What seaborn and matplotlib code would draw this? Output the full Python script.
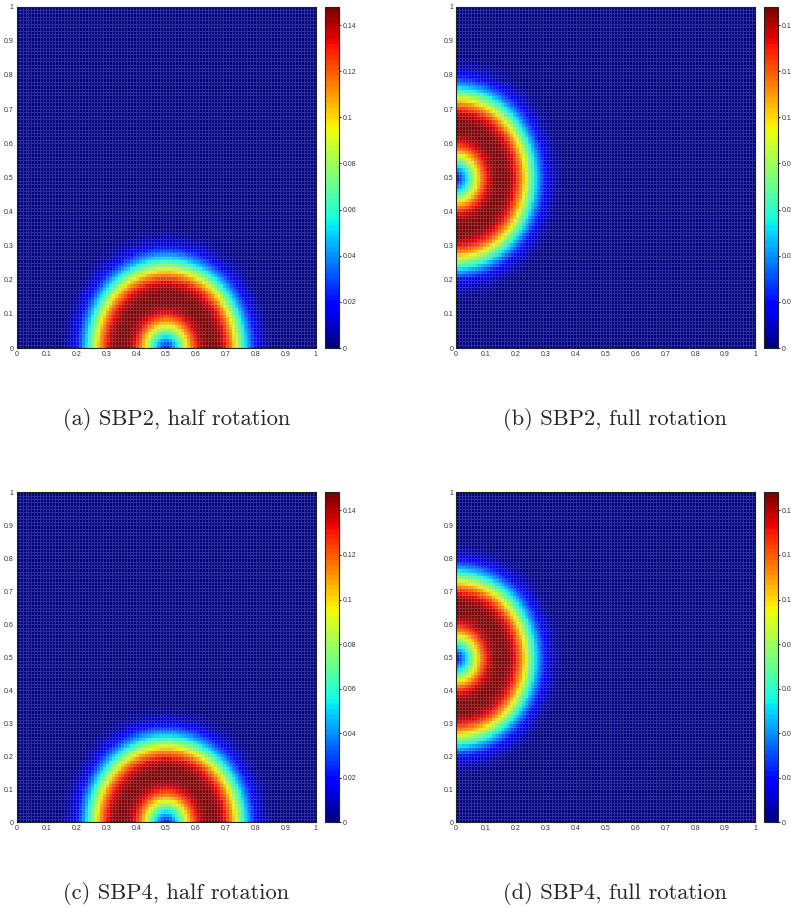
import numpy as np
import matplotlib
matplotlib.use("Agg")
import matplotlib.pyplot as plt
import seaborn as sns

# ring-shaped solution after rotation
grid_n = 100
ring_radius = 0.15       # radius of the dark red crest
ring_width = 0.113       # half width of the ring
ring_shape = 2.5         # flatness of the crest (2 = gaussian)
ring_peak = 0.147        # maximum value
color_max = 0.148
centers = {"half": (0.5, 0.0), "full": (0.0, 0.5)}

panels = ["a", "b", "c", "d"]
captions = ["(a) SBP2, half rotation", "(b) SBP2, full rotation",
            "(c) SBP4, half rotation", "(d) SBP4, full rotation"]
rotations = ["half", "full", "half", "full"]
axis_ticks = [0, 0.1, 0.2, 0.3, 0.4, 0.5, 0.6, 0.7, 0.8, 0.9, 1]
axis_labels = ["0", "0.1", "0.2", "0.3", "0.4", "0.5", "0.6", "0.7", "0.8", "0.9", "1"]
cbar_ticks = [0, 0.02, 0.04, 0.06, 0.08, 0.1, 0.12, 0.14]
cbar_labels = ["0", "0.02", "0.04", "0.06", "0.08", "0.1", "0.12", "0.14"]


def ring_field(cx, cy):
    xc = (np.arange(grid_n) + 0.5) / grid_n
    X, Y = np.meshgrid(xc, xc)
    r = np.hypot(X - cx, Y - cy)
    return ring_peak * np.exp(-np.abs((r - ring_radius) / ring_width) ** ring_shape)


sns.set_style("white")
plt.rcParams["font.family"] = ["Liberation Sans", "DejaVu Sans"]

fig = plt.figure(figsize=(7.91, 9.08), dpi=100)
jet = plt.get_cmap("jet", 64)

# axes boxes in figure fractions: (left, bottom, width, height)
ax_left = [0.0209, 0.5765, 0.0209, 0.5765]
ax_bottom = [0.6167, 0.6167, 0.0942, 0.0942]
ax_h = [0.376, 0.376, 0.3634, 0.3634]
cb_left = [0.4115, 0.9659, 0.4115, 0.9659]
cap_x = [0.2231, 0.778, 0.2231, 0.778]
cap_y = [0.5385, 0.5385, 0.0165, 0.0165]

for k in range(4):
    ax = fig.add_axes([ax_left[k], ax_bottom[k], 0.378, ax_h[k]])
    cax = fig.add_axes([cb_left[k], ax_bottom[k], 0.0177, ax_h[k]])
    z = ring_field(*centers[rotations[k]])
    # faceted mesh: faint light edges around every cell
    sns.heatmap(z, ax=ax, cbar_ax=cax, cmap=jet, vmin=0, vmax=color_max,
                linewidths=0.5, linecolor=(0.75, 0.75, 0.9, 0.25),
                xticklabels=False, yticklabels=False)
    ax.invert_yaxis()
    ax.set_xticks([t * grid_n for t in axis_ticks])
    ax.set_xticklabels(axis_labels)
    ax.set_yticks([t * grid_n for t in axis_ticks])
    ax.set_yticklabels(axis_labels)
    ax.tick_params(axis="both", labelsize=5, colors="#333333", length=0, pad=2)
    for s in ax.spines.values():
        s.set_visible(True)
        s.set_linewidth(0.8)
        s.set_color("#222222")

    cb = ax.collections[0].colorbar
    cb.set_ticks(cbar_ticks)
    cb.set_ticklabels(cbar_labels)
    cb.outline.set_linewidth(0.8)
    cb.outline.set_edgecolor("#222222")
    cax.tick_params(labelsize=5, colors="#333333", length=3, width=0.8,
                    direction="inout", pad=1)
    for lab in cax.get_yticklabels():
        lab.set_color("#333333")

    fig.text(cap_x[k], cap_y[k], captions[k], ha="center", va="center",
             fontsize=16.2, family="cmr10")

fig.savefig("out.png", dpi=100)
